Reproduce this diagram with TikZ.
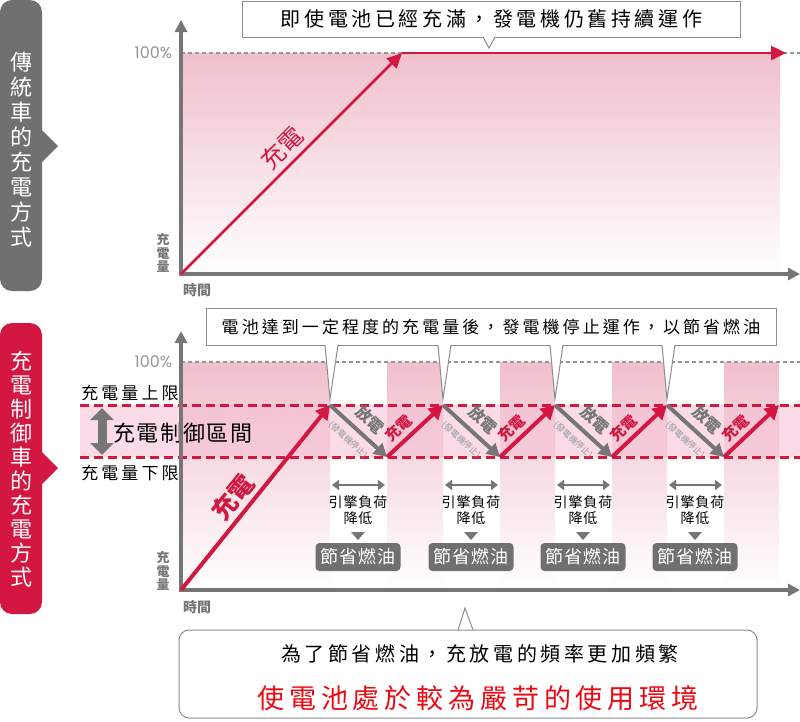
\documentclass[tikz,border=0pt]{standalone}
\usepackage{fontspec}
\setmainfont{Noto Sans CJK TC}
\newfontfamily\numfont{Poppins}
\newfontfamily\widefont[LetterSpace=18]{Noto Sans CJK TC}
\newfontfamily\narrowfont[LetterSpace=6]{Noto Sans CJK TC}
\usetikzlibrary{arrows.meta}
\definecolor{crimson}{RGB}{211,23,64}
\definecolor{axisgray}{RGB}{118,118,118}
\definecolor{panelgray}{RGB}{112,112,112}
\definecolor{fillpink}{RGB}{240,192,204}
\definecolor{bandpink}{RGB}{246,190,212}
\definecolor{textgray}{RGB}{150,150,150}
\definecolor{boxgray}{RGB}{140,140,140}
\definecolor{warnred}{RGB}{235,10,20}

\begin{document}
\begin{tikzpicture}[x=1pt, y=1pt, yscale=-1, inner sep=0pt, outer sep=0pt,
  axis/.style={draw=axisgray, line width=3.5pt, -{Triangle[length=12pt,width=12pt]}},
  charge/.style={draw=crimson, line width=4pt, -{Triangle[length=14pt,width=15pt]}},
  thin charge/.style={draw=crimson, line width=2.5pt, -{Triangle[length=15pt,width=14pt]}},
  discharge/.style={draw=axisgray, line width=4pt, -{Triangle[length=13pt,width=14pt]}},
  full line/.style={draw=textgray, line width=1.5pt, dash pattern=on 4pt off 3pt},
  limit line/.style={draw=crimson, line width=3pt, dash pattern=on 9pt off 5pt},
  note/.style={draw=boxgray, fill=white, line width=1pt},
  fuel/.style={fill=panelgray, rounded corners=4pt, text=white, minimum width=85pt,
    minimum height=28pt, font=\narrowfont\fontsize{18}{18}\selectfont},
  panel text/.style={text=white, align=center},
  axis label/.style={text=axisgray, align=center, font=\bfseries\fontsize{13}{13.5}\selectfont}]
\useasboundingbox (0,0) rectangle (800,721);

% ---- conventional car
\fill[panelgray, rounded corners=12pt] (0,0) rectangle (42,291);
\fill[panelgray] (42,130) -- (58,146) -- (42,162) -- cycle;
\node[panel text, font=\fontsize{22}{25}\selectfont] (panel1) at (21,150)
  {傳\\統\\車\\的\\充\\電\\方\\式};

\shade[top color=fillpink, bottom color=white] (181,53) rectangle (780,274);
\path[full line] (181,53) -- (800,53);
\node[left, text=textgray, font=\numfont\fontsize{16}{16}\selectfont] (full1) at (172,53) {100\%};
\draw[axis] (181,275.75) -- (181,20);
\draw[axis] (179.25,274) -- (800,274);
\node[axis label] (soc1) at (163,253) {充\\電\\量};
\node[axis label, font=\bfseries\fontsize{14}{14}\selectfont] (time1) at (197,290) {時間};

\coordinate (o1) at (181,274);
\coordinate (top1) at (402,53);
\coordinate (end1) at (786,53);
\draw[thin charge] (o1) -- (top1);
\draw[thin charge] (top1) -- (end1);
\node[rotate=45, text=crimson, font=\fontsize{24}{24}\selectfont] (c1) at (282,148) {充電};

\node[note, minimum width=498pt, minimum height=36pt, font=\widefont\fontsize{20}{20}\selectfont]
  (note1) at (491.5,19) {即使電池已經充滿，發電機仍舊持續運作};
\fill[white] (483,36) -- (489,48) -- (495,36) -- cycle;
\draw[boxgray, line width=1pt] (483,37) -- (489,48) -- (495,37);

% ---- controlled car
\fill[crimson, rounded corners=12pt] (0,323) rectangle (42,614);
\fill[crimson] (42,452) -- (58,468) -- (42,484) -- cycle;
\node[panel text, font=\fontsize{22}{24}\selectfont] (panel2) at (21,469)
  {充\\電\\制\\御\\車\\的\\充\\電\\方\\式};

\foreach \a/\b in {181/330, 387/443, 500/555, 612/667, 724/779}
  \shade[top color=fillpink, bottom color=white] (\a,362) rectangle (\b,590);
\fill[bandpink, opacity=0.55] (80,405) rectangle (800,457);
\path[full line] (181,362) -- (800,362);
\node[left, text=textgray, font=\numfont\fontsize{16}{16}\selectfont] (full2) at (172,362) {100\%};
\path[limit line] (80,405) -- (800,405);
\path[limit line] (80,457) -- (800,457);
\node[font=\widefont\fontsize{17}{17}\selectfont] (upper) at (130,393) {充電量上限};
\node[font=\widefont\fontsize{17}{17}\selectfont] (lower) at (130,473) {充電量下限};
\draw[axisgray, line width=9pt, {Triangle[length=12pt,width=23pt]}-{Triangle[length=12pt,width=23pt]}]
  (102,408) -- (102,455);
\node[font=\narrowfont\fontsize{22}{22}\selectfont] (band) at (183,433) {充電制御區間};

\draw[axis] (181,591.75) -- (181,331);
\draw[axis] (179.25,590) -- (800,590);
\node[axis label] (soc2) at (163,571) {充\\電\\量};
\node[axis label, font=\bfseries\fontsize{14}{14}\selectfont] (time2) at (197,607) {時間};

\coordinate (o2) at (181,590);
\foreach \x [count=\i] in {330,443,555,667} {
  \coordinate (peak\i) at (\x,405);
  \coordinate (low\i) at (\x+57,457);
}
\coordinate (peak5) at (779,405);
\draw[charge] (o2) -- (peak1);
\node[rotate=51, text=crimson, font=\bfseries\fontsize{25}{25}\selectfont] (c2) at (233,497) {充電};
\foreach \x [count=\i, evaluate=\i as \j using int(\i+1)] in {330,443,555,667} {
  \draw[discharge] (peak\i) -- (low\i);
  \draw[charge] (low\i) -- (peak\j);
  \node[rotate=-42, text=axisgray, font=\bfseries\fontsize{16}{16}\selectfont] (d\i) at (\x+40,420) {放電};
  \node[rotate=-42, text=textgray, font=\fontsize{8.5}{8.5}\selectfont] (stop\i) at (\x+18,440) {(發電機停止)};
  \node[rotate=43, text=crimson, font=\bfseries\fontsize{15}{15}\selectfont] (r\i) at (\x+69,428) {充電};
}

\foreach \x [count=\i] in {358,471,583,695} {
  \draw[axisgray, line width=2.5pt, {Triangle[length=7pt,width=10pt]}-{Triangle[length=7pt,width=10pt]}]
    (\x-26,485) -- (\x+27,485);
  \node[font=\narrowfont\fontsize{14}{14}\selectfont] (load\i) at (\x,502) {引擎負荷};
  \node[font=\narrowfont\fontsize{14}{14}\selectfont] (cut\i) at (\x,518) {降低};
  \fill[axisgray] (\x-7,532) -- (\x+7,532) -- (\x,540) -- cycle;
  \node[fuel] (fuel\i) at (\x,557) {節省燃油};
}

\node[note, minimum width=570pt, minimum height=37pt, font=\widefont\fontsize{17}{17}\selectfont]
  (note2) at (491,326.5) {電池達到一定程度的充電量後，發電機停止運作，以節省燃油};
\foreach \x in {330,443,555,667} {
  \fill[white] (\x-5,344) -- (\x,399) -- (\x+8,344) -- cycle;
  \draw[boxgray, line width=1pt] (\x-5,345) -- (\x,399) -- (\x+8,345);
}

% ---- summary
\node[note, rounded corners=10pt, minimum width=578pt, minimum height=88pt] (summary) at (468,674) {};
\fill[white] (458,629) -- (465,608) -- (473,629) -- cycle;
\draw[boxgray, line width=1pt] (458,630) -- (465,608) -- (473,630);
\node[font=\widefont\fontsize{20}{20}\selectfont] (why) at (480,654) {為了節省燃油，充放電的頻率更加頻繁};
\node[text=warnred, font=\widefont\fontsize{27}{27}\selectfont] (result) at (478,698) {使電池處於較為嚴苛的使用環境};
\end{tikzpicture}
\end{document}
